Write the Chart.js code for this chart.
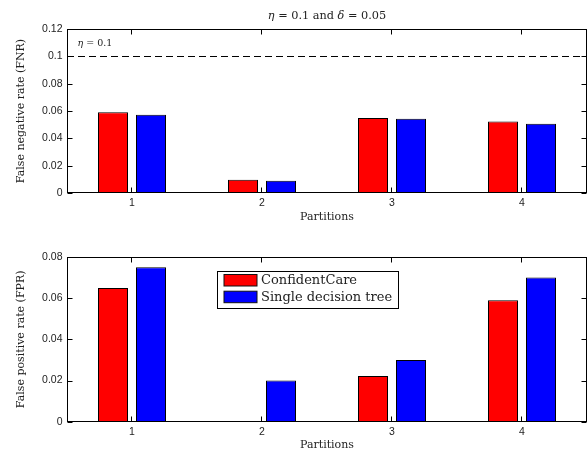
<!DOCTYPE html>
<html><head><meta charset="utf-8">
<script src="https://cdn.jsdelivr.net/npm/chart.js@4/dist/chart.umd.min.js"></script>
<style>
html,body{margin:0;padding:0;background:#fff;overflow:hidden;}
#wrap{position:relative;width:587px;height:451px;background:#fff;overflow:hidden;}
.pane{position:absolute;left:0;width:587px;}
canvas{display:block;}
</style></head><body>
<div id="wrap">
  <div class="pane" style="top:0;height:225px"><canvas id="fnr" width="587" height="225"></canvas></div>
  <div class="pane" style="top:225px;height:227px"><canvas id="fpr" width="587" height="227"></canvas></div>
</div>
<script>
// Partitions and the two classifiers being compared
const partitions = ['1', '2', '3', '4'];
const seriesNames = ['ConfidentCare', 'Single decision tree'];

// False negative rate per partition
const fnrConfidentCare = [0.059, 0.0097, 0.0548, 0.0524];
const fnrSingleTree    = [0.0573, 0.009, 0.0544, 0.0507];

// False positive rate per partition
const fprConfidentCare = [0.065, 0, 0.0222, 0.059];
const fprSingleTree    = [0.075, 0.020, 0.030, 0.070];

// Y tick values and their labels
const fnrTickValues = [0, 0.02, 0.04, 0.06, 0.08, 0.1, 0.12];
const fnrTickLabels = ['0', '0.02', '0.04', '0.06', '0.08', '0.1', '0.12'];
const fprTickValues = [0, 0.02, 0.04, 0.06, 0.08];
const fprTickLabels = ['0', '0.02', '0.04', '0.06', '0.08'];

// FNR constraint level
const etaThreshold = 0.1;

const SERIF = '"DejaVu Serif", "Liberation Serif", serif';
const SANS = '"Liberation Sans", Arial, sans-serif';
const seriesColors = ['#ff0000', '#0000ff'];

function drawRich(ctx, parts, cx, cy, size, align) {
  let total = 0;
  parts.forEach(p => {
    ctx.font = (p.it ? 'italic ' : '') + size + 'px ' + SERIF;
    p.w = ctx.measureText(p.t).width;
    total += p.w;
  });
  let x = align === 'left' ? cx : cx - total / 2;
  ctx.textBaseline = 'middle';
  ctx.textAlign = 'left';
  parts.forEach(p => {
    ctx.font = (p.it ? 'italic ' : '') + size + 'px ' + SERIF;
    ctx.fillText(p.t, x, cy);
    x += p.w;
  });
}

// Box around the plot area with inward tick marks on all four sides
const framePlugin = {
  id: 'frame',
  afterDatasetsDraw(chart) {
    const {ctx, chartArea: a, scales} = chart;
    const L = Math.round(a.left) + 0.5, R = Math.round(a.right) - 0.5;
    const T = Math.round(a.top) + 0.5, B = Math.round(a.bottom) - 0.5;
    ctx.save();
    ctx.strokeStyle = '#000';
    ctx.lineWidth = 1;
    ctx.setLineDash([]);
    ctx.strokeRect(L, T, R - L, B - T);
    ctx.beginPath();
    const len = 5;
    scales.x.ticks.forEach((t, i) => {
      const x = Math.round(scales.x.getPixelForTick(i)) - 0.5;
      ctx.moveTo(x, B); ctx.lineTo(x, B - len);
      ctx.moveTo(x, T); ctx.lineTo(x, T + len);
    });
    scales.y.ticks.forEach(t => {
      const y = Math.round(scales.y.getPixelForValue(t.value)) + 0.5;
      ctx.moveTo(L, y); ctx.lineTo(L + len, y);
      ctx.moveTo(R, y); ctx.lineTo(R - len, y);
    });
    ctx.stroke();
    ctx.restore();
  }
};

// Dashed threshold line with its label, plus the panel heading
const thresholdPlugin = {
  id: 'threshold',
  afterDatasetsDraw(chart) {
    const {ctx, chartArea: a, scales} = chart;
    const y = Math.round(scales.y.getPixelForValue(etaThreshold)) + 0.5;
    ctx.save();
    ctx.strokeStyle = '#000';
    ctx.lineWidth = 1;
    ctx.setLineDash([7, 4]);
    ctx.beginPath();
    ctx.moveTo(a.left, y);
    ctx.lineTo(a.right, y);
    ctx.stroke();
    ctx.setLineDash([]);
    ctx.fillStyle = '#222';
    drawRich(ctx, [{t: 'η', it: true}, {t: ' = ' + etaThreshold}], a.left + 10.5, a.top + 14.5, 9.5, 'left');
    drawRich(ctx, [{t: 'η', it: true}, {t: ' = 0.1 and '}, {t: 'δ', it: true}, {t: ' = 0.05'}],
      (a.left + a.right) / 2, 16.5, 11.3, 'center');
    ctx.restore();
  }
};

// Legend box drawn inside the plot area
const boxLegendPlugin = {
  id: 'boxLegend',
  afterDatasetsDraw(chart) {
    const {ctx, chartArea: a} = chart;
    const bx = a.left + 150.5, by = a.top + 14.5, bw = 181, bh = 37;
    ctx.save();
    ctx.fillStyle = '#fff';
    ctx.fillRect(bx, by, bw, bh);
    ctx.strokeStyle = '#000';
    ctx.lineWidth = 1;
    ctx.strokeRect(bx, by, bw, bh);
    chart.data.datasets.forEach((ds, i) => {
      const sy = by + 3 + i * 16.7;
      ctx.fillStyle = ds.backgroundColor;
      ctx.fillRect(bx + 6.5, sy, 33, 11.5);
      ctx.strokeStyle = '#111';
      ctx.strokeRect(bx + 6.5, sy, 33, 11.5);
      ctx.fillStyle = '#222';
      ctx.font = '13px ' + SERIF;
      ctx.textBaseline = 'middle';
      ctx.textAlign = 'left';
      ctx.fillText(ds.label, bx + 43.5, sy + 6.5);
    });
    ctx.restore();
  }
};

function makeChart(id, a, b, tickValues, tickLabels, yMax, yTitle, geom, extraPlugins) {
  return new Chart(document.getElementById(id), {
    type: 'bar',
    data: {
      labels: partitions,
      datasets: [
        {label: seriesNames[0], data: a, backgroundColor: seriesColors[0], borderColor: '#000', borderWidth: 1},
        {label: seriesNames[1], data: b, backgroundColor: seriesColors[1], borderColor: '#000', borderWidth: 1}
      ]
    },
    options: {
      responsive: false,
      animation: false,
      events: [],
      categoryPercentage: 76 / 130,
      barPercentage: 30 / 38,
      layout: {padding: {top: geom.top, left: 0, right: 0, bottom: 0}},
      plugins: {legend: {display: false}, tooltip: {enabled: false}, title: {display: false}},
      scales: {
        x: {
          grid: {display: false, drawTicks: false},
          border: {display: false},
          ticks: {color: '#222', font: {family: SANS, size: 10.5}, padding: 4},
          title: {display: true, text: 'Partitions', color: '#222', font: {family: SERIF, size: 11}, padding: {top: 0, bottom: geom.titlePad}},
          afterFit(s) { s.height = geom.xHeight; }
        },
        y: {
          min: 0, max: yMax,
          grid: {display: false, drawTicks: false},
          border: {display: false},
          afterBuildTicks(s) { s.ticks = tickValues.map(v => ({value: v})); },
          ticks: {color: '#222', font: {family: SANS, size: 10.5}, padding: 4.5,
            callback: (v, i) => tickLabels[i]},
          title: {display: true, text: yTitle, color: '#222', font: {family: SERIF, size: 11}, padding: {top: 15, bottom: 0}},
          afterFit(s) { s.width = 67; }
        }
      }
    },
    plugins: [framePlugin].concat(extraPlugins)
  });
}

makeChart('fnr', fnrConfidentCare, fnrSingleTree, fnrTickValues, fnrTickLabels, 0.12,
  'False negative rate (FNR)', {top: 29, xHeight: 32, titlePad: 1.5}, [thresholdPlugin]);
makeChart('fpr', fprConfidentCare, fprSingleTree, fprTickValues, fprTickLabels, 0.08,
  'False positive rate (FPR)', {top: 32, xHeight: 30.3, titlePad: 0}, [boxLegendPlugin]);
</script>
</body></html>
